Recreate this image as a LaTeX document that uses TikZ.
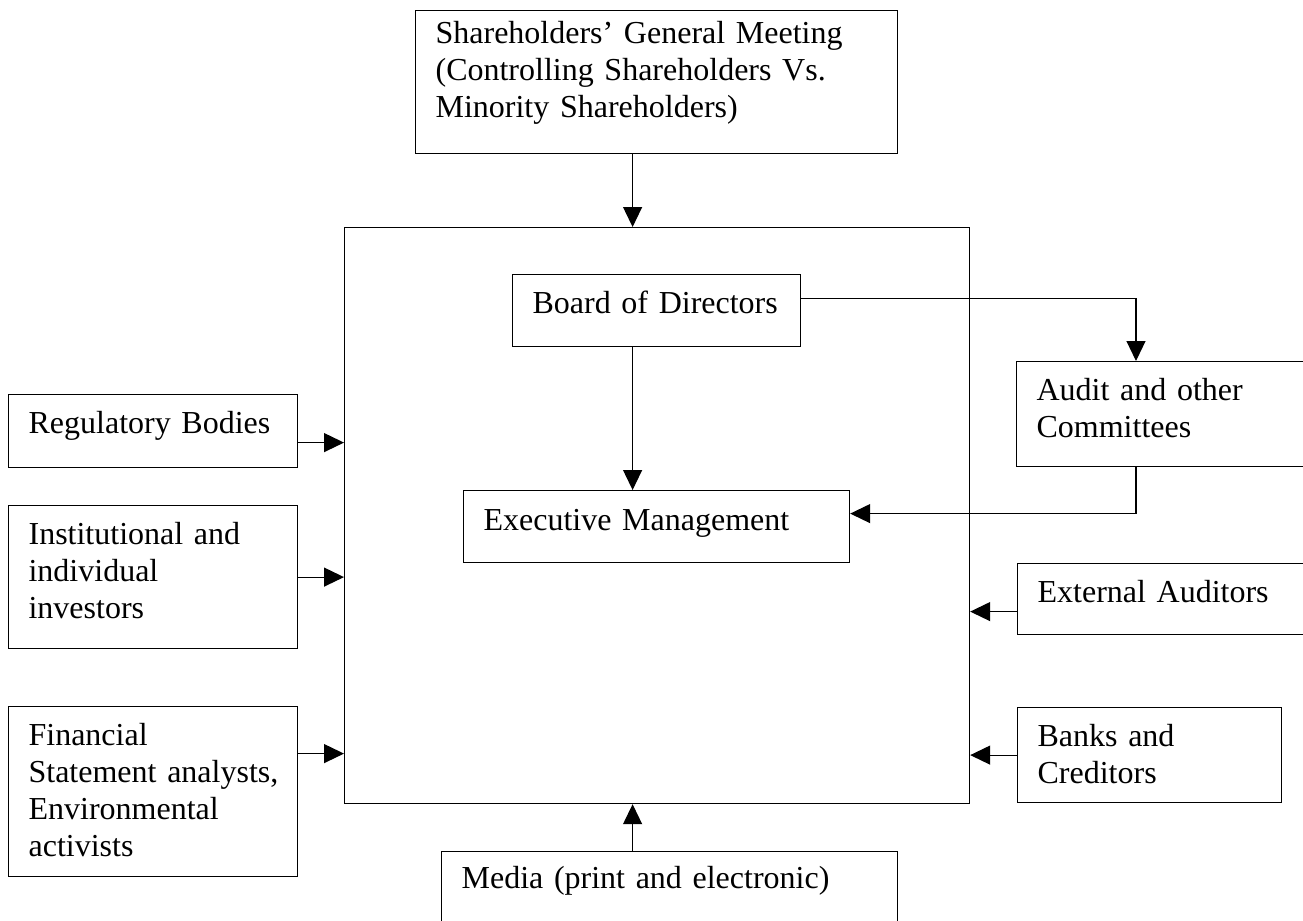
\documentclass[tikz,border=0pt]{standalone}
\usepackage{fontspec}
\setmainfont{Liberation Serif}
\usetikzlibrary{arrows.meta}

\begin{document}
\begin{tikzpicture}[x=0.5pt, y=-0.5pt,
    card/.style={draw, line width=0.6pt, rectangle, anchor=north west, align=left,
        inner xsep=10pt, inner ysep=0pt, text height=19.5pt,
        font=\fontsize{16}{18.4}\selectfont},
    arr/.style={line width=0.6pt, -{Triangle[length=10pt, width=9.5pt]}}]
    \useasboundingbox (0,0) rectangle (1303,921);
    \clip (0,0) rectangle (1303,921);

    % Company frame
    \node[draw, line width=0.6pt, anchor=north west, inner sep=0pt,
        minimum width=312.5pt, minimum height=288pt] (firm) at (344,227) {};

    % Inside the company
    \node[card, text width=124pt, text depth=16.5pt] (board) at (512,274) {Board of Directors};
    \node[card, text width=173pt, text height=20pt, text depth=16pt] (exec) at (463,490) {Executive Management};

    % Owners and media
    \node[card, text width=221pt, text height=16.5pt, text depth=55pt] (meeting) at (415,10)
        {Shareholders’ General Meeting\\(Controlling Shareholders Vs.\\Minority Shareholders)};
    \node[card, text width=208pt, text height=18.5pt, text depth=26pt] (media) at (441,851) {Media (print and electronic)};

    % Left side
    \node[card, text width=124.5pt, text depth=17pt] (regul) at (8,394) {Regulatory Bodies};
    \node[card, text width=124.5pt, text depth=52pt] (invest) at (8,505) {Institutional and\\individual\\investors};
    \node[card, text width=124.5pt, text depth=65.5pt] (analyst) at (8,706)
        {Financial\\\mbox{Statement analysts,}\\Environmental\\activists};

    % Right side
    \node[card, text width=137pt, text depth=33pt] (audit) at (1016,361) {Audit and other\\Committees};
    \node[card, text width=136.5pt, text depth=16pt] (extaud) at (1017,563) {External Auditors};
    \node[card, text width=112pt, text depth=28pt] (banks) at (1017,707) {Banks and\\Creditors};

    % Connections
    \draw[arr] ([xshift=-12pt]meeting.south) coordinate (m) -- (m |- firm.north);
    \draw[arr] ([xshift=-12pt]board.south) coordinate (b) -- (b |- exec.north);
    \draw[arr] ([yshift=6pt]board.east) -| ([xshift=60pt]audit.north west);
    \draw[arr] ([xshift=60pt]audit.south west) |- ([yshift=6.5pt]exec.east);
    \draw[arr] ([yshift=-5.75pt]regul.east) coordinate (r) -- (r -| firm.west);
    \draw[arr] (invest.east) -- (invest.east -| firm.west);
    \draw[arr] ([yshift=19pt]analyst.east) coordinate (f) -- (f -| firm.west);
    \draw[arr] ([yshift=-6.25pt]extaud.west) coordinate (e) -- (e -| firm.east);
    \draw[arr] (banks.west) -- (banks.west -| firm.east);
    \draw[arr] ([xshift=-18.5pt]media.north) coordinate (d) -- (d |- firm.south);
\end{tikzpicture}
\end{document}
